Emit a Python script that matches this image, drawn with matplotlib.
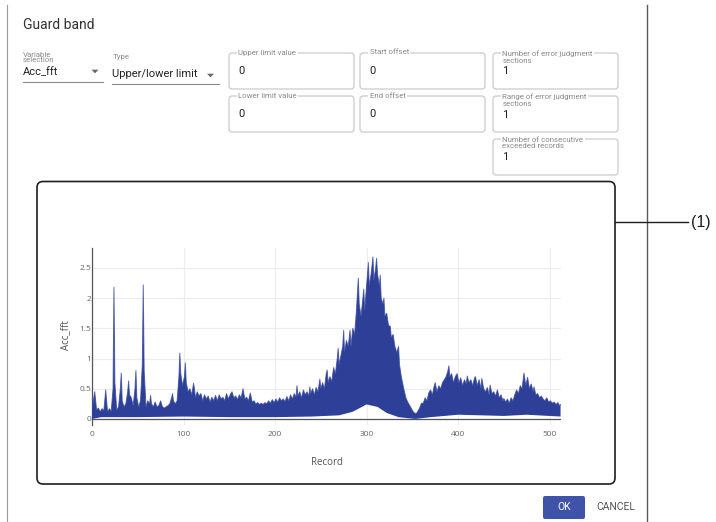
import matplotlib.pyplot as plt
import numpy as np
from matplotlib.patches import FancyBboxPatch, Polygon

plt.rcParams["font.family"] = ["Roboto", "DejaVu Sans"]

# upper edge of the traces
upper_rec = [
    0, 1, 3, 5, 7, 9, 11, 13, 15, 16, 17, 19, 21, 23, 24, 25, 27, 29, 31, 32,
    33, 35, 37, 39, 40, 41, 43, 45, 47, 48, 49, 51, 53, 55, 56, 57, 59, 61, 63, 64,
    65, 67, 69, 71, 73, 75, 77, 79, 81, 83, 85, 87, 88, 89, 91, 93, 95, 96, 97, 99,
    101, 102, 103, 105, 107, 109, 111, 112, 113, 115, 117, 119,
    121, 123, 125, 127, 129, 131, 133, 135, 137, 139, 141, 143, 145, 147, 149, 151,
    153, 155, 157, 159, 161, 163, 165, 167, 169, 171, 173, 175, 177, 179, 181, 183,
    185, 187, 189, 191, 193, 195, 197, 199, 201, 203, 205, 207, 209, 211, 213, 215,
    217, 219, 221, 223, 224, 225, 227, 229, 231, 233, 235, 237, 238, 239, 241, 243,
    245, 247, 249, 250,
    252, 254, 256, 257, 258, 260, 262, 264, 266, 268, 269, 270, 272, 274, 275, 276,
    278, 280, 282, 283, 285, 287, 289, 291, 292, 294, 296, 297, 298, 300, 302, 303,
    305, 307, 308, 310, 311, 312, 314, 315, 316, 318, 319, 320, 322, 324, 326, 327,
    329, 331, 333, 335, 336, 338, 340, 341, 343, 345, 348, 351, 353, 355, 358, 360,
    362,
    364, 366, 368, 370, 372, 374, 375, 377, 379, 381, 383, 385, 387, 389, 390, 391,
    393, 395, 397, 399, 401, 403, 405, 407, 409, 410, 412, 414, 416, 418, 419, 421,
    423, 425, 426, 428, 430, 432, 434, 435, 437, 439, 441, 443, 445, 447, 449, 450,
    452, 454, 456, 458, 460, 462, 464, 466, 468, 470, 472, 474, 476, 478, 480, 482,
    483, 485, 487, 489, 491, 493, 495, 497, 499, 501, 503, 505, 507, 509, 511, 512,
]
upper_val = [
    0.12, 0.25, 0.45, 0.15, 0.18, 0.12, 0.17, 0.14, 0.48, 0.30, 0.12, 0.17, 0.13, 0.50, 2.18, 0.60, 0.15, 0.20, 0.50, 0.76,
    0.30, 0.20, 0.25, 0.45, 0.63, 0.40, 0.35, 0.22, 0.50, 0.80, 0.35, 0.20, 0.30, 0.90, 2.22, 0.80, 0.20, 0.30, 0.25, 0.39,
    0.25, 0.20, 0.28, 0.20, 0.22, 0.30, 0.20, 0.18, 0.20, 0.22, 0.25, 0.35, 0.42, 0.30, 0.25, 0.30, 0.70, 1.09, 0.75, 0.55,
    0.70, 0.93, 0.60, 0.45, 0.50, 0.40, 0.59, 0.50, 0.35, 0.45, 0.38, 0.42,
    0.30, 0.40, 0.33, 0.38, 0.28, 0.36, 0.30, 0.39, 0.30, 0.40, 0.33, 0.36, 0.30, 0.42, 0.33, 0.40,
    0.45, 0.35, 0.38, 0.32, 0.40, 0.35, 0.50, 0.33, 0.36, 0.30, 0.43, 0.28, 0.30, 0.25, 0.27, 0.24,
    0.26, 0.24, 0.27, 0.25, 0.30, 0.26, 0.32, 0.27, 0.33, 0.28, 0.35, 0.30, 0.33, 0.29, 0.37, 0.30,
    0.40, 0.33, 0.42, 0.36, 0.55, 0.38, 0.45, 0.35, 0.48, 0.40, 0.45, 0.38, 0.53, 0.42, 0.50, 0.40,
    0.52, 0.45, 0.66, 0.50,
    0.60, 0.50, 0.75, 0.81, 0.60, 0.70, 0.62, 0.85, 0.75, 1.00, 1.17, 0.90, 1.05, 1.20, 1.47, 1.10,
    1.30, 1.20, 1.47, 1.20, 1.50, 1.40, 1.80, 2.33, 1.90, 1.70, 2.00, 2.15, 1.80, 2.20, 2.59, 2.20,
    2.40, 2.68, 2.30, 2.50, 2.66, 2.40, 2.20, 2.38, 2.00, 1.90, 2.00, 1.70, 1.75, 1.55, 1.53, 1.35,
    1.40, 1.20, 1.10, 1.20, 0.90, 0.70, 0.55, 0.48, 0.35, 0.28, 0.20, 0.12, 0.09, 0.10, 0.18, 0.26,
    0.26,
    0.35, 0.30, 0.43, 0.48, 0.40, 0.55, 0.60, 0.45, 0.55, 0.50, 0.60, 0.65, 0.70, 0.80, 0.88, 0.70,
    0.75, 0.60, 0.70, 0.75, 0.60, 0.68, 0.55, 0.65, 0.58, 0.71, 0.60, 0.65, 0.55, 0.68, 0.70, 0.55,
    0.65, 0.50, 0.67, 0.50, 0.45, 0.52, 0.40, 0.56, 0.42, 0.45, 0.38, 0.48, 0.35, 0.40, 0.30, 0.34,
    0.28, 0.33, 0.26, 0.35, 0.30, 0.40, 0.48, 0.42, 0.55, 0.50, 0.76, 0.55, 0.69, 0.50, 0.58, 0.45,
    0.53, 0.40, 0.42, 0.35, 0.38, 0.33, 0.30, 0.35, 0.28, 0.30, 0.26, 0.28, 0.24, 0.27, 0.22, 0.24,
]

# lower edge of the traces
lower_rec = [0, 10, 50, 100, 150, 200, 240, 270, 285, 300, 312, 322, 335, 353, 370, 400, 450, 475, 512]
lower_val = [0.0, 0.03, 0.03, 0.04, 0.03, 0.03, 0.04, 0.06, 0.12, 0.24, 0.20, 0.10, 0.03, 0.0, 0.03, 0.07, 0.05, 0.07, 0.04]

x_ticks = [0, 100, 200, 300, 400, 500]
y_ticks = [0, 0.5, 1, 1.5, 2, 2.5]
y_tick_labels = ["0", "0.5", "1", "1.5", "2", "2.5"]

# outlined fields: (label, value, left, top)
fields = [
    ("Upper limit value", "0", 229, 53),
    ("Lower limit value", "0", 229, 96),
    ("Start offset", "0", 360, 53),
    ("End offset", "0", 360, 96),
    ("Number of error judgment\nsections", "1", 493, 53),
    ("Range of error judgment\nsections", "1", 493, 96),
    ("Number of consecutive\nexceeded records", "1", 493, 139),
]

W, H = 716, 522
fig = plt.figure(figsize=(W / 100, H / 100), dpi=100)
fig.patch.set_facecolor("white")

# dialog layer in pixel coordinates
ui = fig.add_axes([0, 0, 1, 1])
ui.set_xlim(0, W)
ui.set_ylim(H, 0)
ui.axis("off")

ui.plot([7, 7], [5, H], color="#9a9a9a", lw=0.8)
ui.plot([647, 647], [5, H], color="#5a5a5a", lw=1.0)

ui.text(23, 25, "Guard band", fontsize=10, color="#333333", va="center")

# dropdowns
ui.text(23, 57.5, "Variable\nselection", fontsize=5.7, color="#8a8a8a", va="center",
        linespacing=0.9)
ui.text(23, 72, "Acc_fft", fontsize=8, color="#222222", va="center")
ui.plot([23, 103], [81.5, 81.5], color="#8a8a8a", lw=0.8)
ui.text(112.5, 57.5, "Type", fontsize=5.7, color="#8a8a8a", va="center")
ui.text(112.5, 74, "Upper/lower limit", fontsize=8, color="#222222", va="center")
ui.plot([112, 219], [83.5, 83.5], color="#8a8a8a", lw=0.8)
for ax_, ay_ in [(95, 71.5), (210.5, 75.5)]:
    ui.add_patch(Polygon([[ax_ - 3.5, ay_ - 1.8], [ax_ + 3.5, ay_ - 1.8], [ax_, ay_ + 1.8]],
                         closed=True, color="#666666", lw=0))

# outlined text fields
for label, value, left, top in fields:
    ui.add_patch(FancyBboxPatch((left, top), 125, 36,
                                boxstyle="round,pad=0,rounding_size=3",
                                facecolor="white", edgecolor="#c4c4c4", lw=0.8))
    two_lines = "\n" in label
    ui.text(left + 9.5, top + (4 if two_lines else -0.5), label, fontsize=5.7,
            color="#8a8a8a", va="center", linespacing=1.05, zorder=5,
            bbox=dict(facecolor="white", edgecolor="none", boxstyle="square,pad=0.15"))
    ui.text(left + 9.5, top + (18.5 if two_lines else 18), value, fontsize=8,
            color="#222222", va="center", zorder=5)

# chart frame and callout
ui.add_patch(FancyBboxPatch((37, 181.5), 578, 302.5,
                            boxstyle="round,pad=0,rounding_size=6",
                            facecolor="white", edgecolor="#1e1e1e", lw=1.2))
ui.plot([615, 688], [222, 222], color="#1e1e1e", lw=1.0)
ui.text(691.5, 222, "(1)", fontsize=11.5, color="#1e1e1e", va="center", family="Liberation Sans")

# buttons
ui.add_patch(FancyBboxPatch((543, 496), 42, 23, boxstyle="round,pad=0,rounding_size=2",
                            facecolor="#3f53a8", edgecolor="none"))
ui.text(564, 507.5, "OK", fontsize=7.5, color="white", ha="center", va="center")
ui.text(615.5, 507.5, "CANCEL", fontsize=7.5, color="#555555", ha="center", va="center")

# chart
x0, x1, y_top, y_bot = 92, 561, 248, 425
ax = fig.add_axes([x0 / W, 1 - y_bot / H, (x1 - x0) / W, (y_bot - y_top) / H])
ax.set_zorder(3)
ax.patch.set_alpha(0)

poly_x = np.concatenate([upper_rec, lower_rec[::-1]])
poly_y = np.concatenate([upper_val, lower_val[::-1]])
ax.fill(poly_x, poly_y, color="#2d3f97", lw=0, zorder=3)
ax.plot(upper_rec, upper_val, color="#3a4ca0", lw=0.7, alpha=0.8, zorder=3)

ax.set_xlim(0, 512.5)
ax.set_ylim(-0.1, 2.83)
ax.set_xticks(x_ticks)
ax.set_yticks(y_ticks)
ax.set_yticklabels(y_tick_labels)
ax.grid(True, color="#ececec", lw=0.8)
ax.set_axisbelow(True)
ax.axhline(0, color="#555555", lw=0.9, zorder=2)
for side in ["top", "right", "bottom"]:
    ax.spines[side].set_visible(False)
ax.spines["left"].set_color("#555555")
ax.spines["left"].set_linewidth(0.9)
ax.tick_params(length=0, labelsize=6, labelcolor="#666666")
ax.tick_params(axis="x", pad=4.5)
ax.tick_params(axis="y", pad=0.8)
for lab in ax.get_xticklabels() + ax.get_yticklabels():
    lab.set_family("Open Sans")

ax.set_ylabel("Acc_fft", fontsize=7, color="#555555", family="Open Sans")
ax.yaxis.set_label_coords(-0.045, 0.51)
ax.set_xlabel("Record", fontsize=7, color="#555555", family="Open Sans")
ax.xaxis.set_label_coords(0.5, -0.18)

fig.savefig("out.png", dpi=100, facecolor="white")
